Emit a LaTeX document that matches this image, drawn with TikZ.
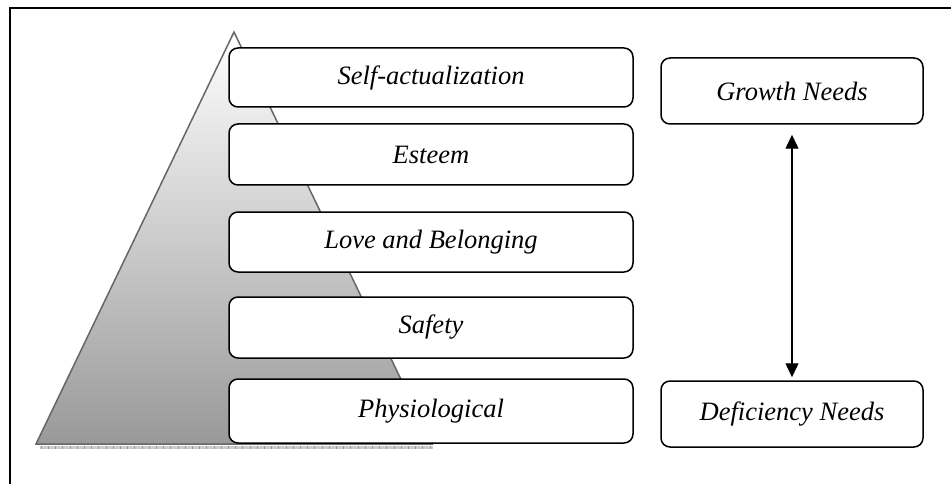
\documentclass[tikz,border=0pt]{standalone}
\usepackage{fontspec}
\setmainfont{Liberation Serif}[ItalicFont={Liberation Serif Italic}]
\usetikzlibrary{arrows.meta}
\begin{document}
\begin{tikzpicture}[x=1pt,y=-1pt,
  needbox/.style={draw=black, line width=1.5pt, rounded corners=9pt, fill=white,
    minimum height=60pt, inner sep=0pt, font=\fontsize{26.5}{30}\selectfont\itshape},
  levelbox/.style={needbox, minimum width=404pt},
  sidebox/.style={needbox, minimum width=262pt, minimum height=66pt}]
\useasboundingbox (0,0) rectangle (951,484);
% frame
\draw[line width=1.4pt] (10,500) -- (10,8) -- (960,8);
% pyramid
\shade[top color=white, bottom color=black!40] (234,32) -- (432,444) -- (36,444) -- cycle;
\draw[draw=black!60, line width=1.5pt, line join=miter] (234,32) -- (432,444) -- (36,444) -- cycle;
% base ruler shadow
\draw[black!20, line width=3pt] (40,447.5) -- (433,447.5);
\foreach \i in {0,...,54} {\draw[black!40, line width=0.6pt] (41+7.2*\i,446) -- (41+7.2*\i,449);}
% levels
\node[levelbox, minimum height=59pt] (self) at (431,77.5) {Self-actualization};
\node[levelbox, minimum height=61pt] (est) at (431,154.5) {Esteem};
\node[levelbox, minimum height=60pt] (love) at (431,242) {Love and Belonging};
\node[levelbox, minimum height=61pt] (safe) at (431,327.5) {Safety};
\node[levelbox, minimum height=64pt] (phys) at (431,411) {Physiological};
% side boxes
\node[sidebox] (grow) at (792,91) {Growth Needs};
\node[sidebox] (def) at (792,414) {Deficiency Needs};
\draw[line width=1.4pt, {Triangle[width=13pt,length=14pt]}-{Triangle[width=13pt,length=14pt]},
  shorten <=10pt, shorten >=3pt] (grow.south) -- (def.north);
\end{tikzpicture}
\end{document}
